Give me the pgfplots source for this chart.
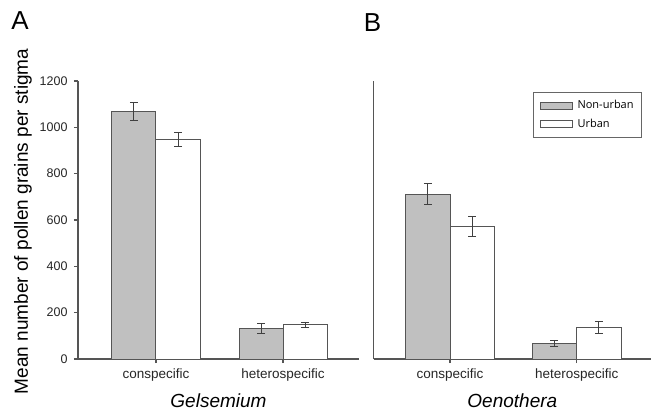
\documentclass[border=0pt]{standalone}
\usepackage{pgfplots}
\usepackage{pgfplotstable}
\pgfplotsset{compat=1.18}
\usepackage{fontspec}
\setmainfont{Liberation Sans}
\newfontfamily\legfont{Open Sans}
\definecolor{bargray}{RGB}{192,192,192}
\definecolor{edgegray}{RGB}{85,85,85}

\pgfplotstableread{
cat nu nuerr u uerr
0 1068 39 948 29
1 132 20 147 12
}\gelsemium
\pgfplotstableread{
cat nu nuerr u uerr
0 712 47 571 44
1 66 13 135 27
}\oenothera

\pgfplotsset{
  panel/.style={
    scale only axis,
    width=#1,
    height=278bp,
    anchor=south west,
    ybar=0pt,
    ymin=0, ymax=1200,
    axis lines*=left,
    axis line style={edgegray, line width=1.1bp},
    every tick/.style={edgegray, line width=1.1bp},
    tick align=outside,
    major tick length=4bp,
    xtick={0,1},
    xticklabels={conspecific,heterospecific},
    /pgf/number format/assume math mode=true,
    /pgf/number format/1000 sep={},
    tick label style={text=black!85},
    xticklabel style={font=\fontsize{13.5bp}{16bp}\selectfont, yshift=-2bp},
    yticklabel style={font=\fontsize{12.5bp}{15bp}\selectfont, xshift=-3bp},
    label style={font=\fontsize{19bp}{22bp}\selectfont},
    xlabel style={at={(axis description cs:0.5,-0.151)}, anchor=center, inner sep=0pt},
    clip=false,
  },
  nonurban/.style={fill=bargray, draw=edgegray, line width=1bp,
    legend image code/.code={\draw[fill=bargray, draw=edgegray, line width=0.8bp] (0bp,-3.5bp) rectangle (32bp,3.5bp);},
    error bars/.cd, y dir=both, y explicit,
    error bar style={line width=1bp, black!75},
    error mark options={rotate=90, mark size=4bp, line width=1bp, black!75}},
  urban/.style={fill=white, draw=edgegray, line width=1bp,
    legend image code/.code={\draw[fill=white, draw=edgegray, line width=0.8bp] (0bp,-3.5bp) rectangle (32bp,3.5bp);},
    error bars/.cd, y dir=both, y explicit,
    error bar style={line width=1bp, black!75},
    error mark options={rotate=90, mark size=4bp, line width=1bp, black!75}},
}

\begin{document}
\begin{tikzpicture}
\path[use as bounding box] (0,0) rectangle (651bp,411bp);

\begin{axis}[panel=281bp,
  at={(78bp,52bp)},
  xmin=-0.614, xmax=1.598,
  bar width=0.3465,
  ytick={0,200,400,600,800,1000,1200},
  ylabel={Mean number of pollen grains per stigma},
  ylabel style={at={(axis description cs:-0.196,0.495)}, anchor=center},
  xlabel={\textit{Gelsemium}},
]
\addplot[nonurban] table[x=cat, y=nu, y error=nuerr] {\gelsemium};
\addplot[urban] table[x=cat, y=u, y error=uerr] {\gelsemium};
\end{axis}

\begin{axis}[panel=277.3bp,
  at={(373.7bp,52bp)},
  xmin=-0.602, xmax=1.586,
  bar width=0.351,
  ytick=\empty,
  xlabel={\textit{Oenothera}},
  legend style={at={(axis description cs:0.9675,0.96)}, anchor=north east,
    draw=black!60, line width=0.8bp,
    font=\legfont\fontsize{11bp}{13bp}\selectfont,
    inner xsep=6bp, inner ysep=6bp, row sep=5bp,
    /tikz/every odd column/.append style={column sep=3bp}},
  legend cell align=left,
]
\addplot[nonurban] table[x=cat, y=nu, y error=nuerr] {\oenothera};
\addplot[urban] table[x=cat, y=u, y error=uerr] {\oenothera};
\legend{Non-urban,Urban}
\end{axis}

\node[font=\fontsize{26bp}{30bp}\selectfont] at (20bp,390bp) {A};
\node[font=\fontsize{26bp}{30bp}\selectfont] at (372.5bp,388bp) {B};
\end{tikzpicture}
\end{document}
